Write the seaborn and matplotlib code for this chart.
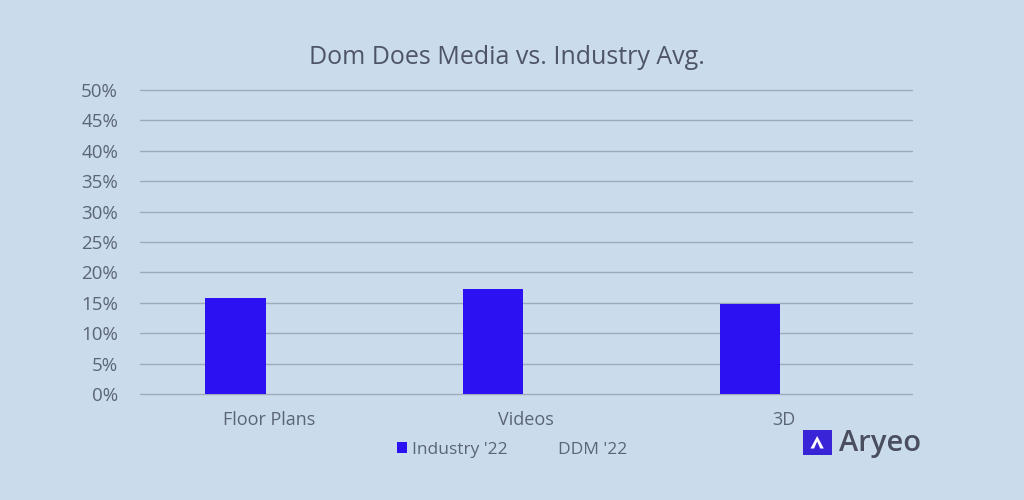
import matplotlib
matplotlib.use("Agg")
import matplotlib.pyplot as plt
import seaborn as sns
import pandas as pd
from matplotlib.patches import Patch, Rectangle, Polygon
from matplotlib.ticker import FuncFormatter

# data
categories = ["Floor Plans", "Videos", "3D"]
series = ["Industry '22", "DDM '22"]
industry_22 = [15.8, 17.3, 14.8]
ddm_22 = [0, 0, 0]
y_ticks = list(range(0, 51, 5))

df = pd.DataFrame({
    "category": categories * 2,
    "series": [series[0]] * 3 + [series[1]] * 3,
    "value": industry_22 + ddm_22,
})

sns.set_theme(style="white")
plt.rcParams['font.family'] = ['Open Sans', 'DejaVu Sans']

bg = "#cadbeb"
text_c = "#5b6578"
bar_c = "#2c12f2"

fig = plt.figure(figsize=(10.24, 5.0), dpi=100, facecolor=bg)
ax = fig.add_axes([0.137, 0.212, 0.754, 0.608])
ax.set_facecolor(bg)

sns.barplot(data=df, x="category", y="value", hue="series",
            palette={series[0]: bar_c, series[1]: (0, 0, 0, 0)},
            width=0.52, gap=0.1, linewidth=0, ax=ax, legend=False,
            saturation=1)

ax.set_ylim(0, 50)
ax.set_yticks(y_ticks)
ax.yaxis.set_major_formatter(FuncFormatter(lambda v, p: f"{int(v)}%"))
ax.grid(axis="y", color="#9eabbc", linewidth=1.0)
for gl in ax.get_ygridlines():
    gl.set_clip_on(False)
ax.set_axisbelow(True)
for s in ax.spines.values():
    s.set_visible(False)
ax.tick_params(axis="y", length=0, labelsize=13.5, colors=text_c, pad=16)
ax.tick_params(axis="x", length=0, labelsize=13, colors=text_c, pad=12)
ax.set_xlabel("")
ax.set_ylabel("")

fig.text(0.495, 0.885, "Dom Does Media vs. Industry Avg.", ha="center",
         va="center", fontsize=18, color="#4e5566")

handles = [Patch(facecolor=bar_c, edgecolor="none"),
           Patch(facecolor=(0, 0, 0, 0), edgecolor="none")]
fig.legend(handles, series, loc="center", bbox_to_anchor=(0.5, 0.1),
           ncol=2, frameon=False, fontsize=12.5, labelcolor=text_c,
           handlelength=0.6, handleheight=0.6, handletextpad=0.3,
           columnspacing=2.0)

# logo
fig.patches.append(Rectangle((0.784, 0.09), 0.0283, 0.05,
                             transform=fig.transFigure,
                             facecolor="#3a24d8", edgecolor="none"))
fig.patches.append(Polygon([(0.7915, 0.103), (0.798, 0.128), (0.8045, 0.103),
                            (0.801, 0.103), (0.798, 0.117), (0.795, 0.103)],
                           closed=True, transform=fig.transFigure,
                           facecolor="white", edgecolor="none"))
fig.text(0.819, 0.113, "Aryeo", ha="left", va="center", fontsize=21,
         color="#4a4e5e", fontweight="semibold")

fig.savefig("out.png", dpi=100, facecolor=bg)
